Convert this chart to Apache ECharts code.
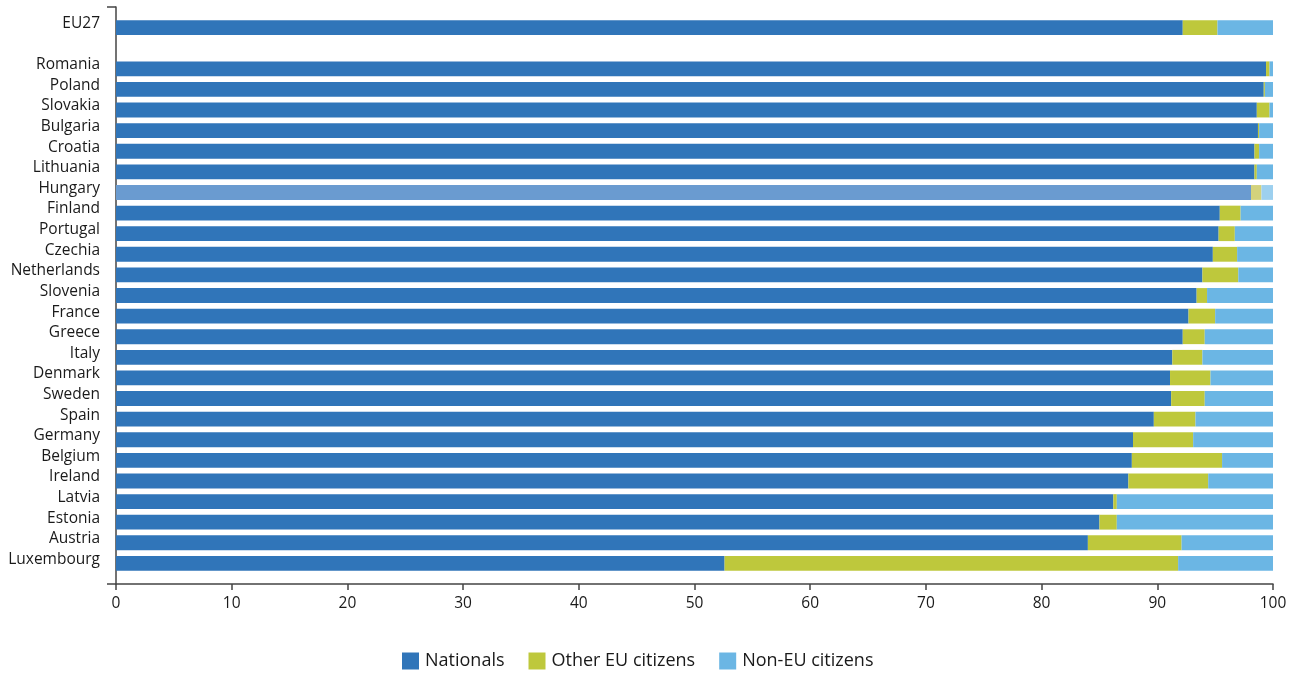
<!DOCTYPE html>
<html>
<head>
<meta charset="utf-8">
<style>
  html, body { margin: 0; padding: 0; background: #fff; }
  #chart { width: 1298px; height: 675px; }
</style>
<script src="https://cdn.jsdelivr.net/npm/echarts@6/dist/echarts.min.js"></script>
</head>
<body>
<div id="chart"></div>
<script>
// Population by citizenship (% of total), ordered by share of nationals
const categories = ['', 'EU27', '', 'Romania', 'Poland', 'Slovakia', 'Bulgaria', 'Croatia', 'Lithuania',
  'Hungary', 'Finland', 'Portugal', 'Czechia', 'Netherlands', 'Slovenia', 'France', 'Greece', 'Italy',
  'Denmark', 'Sweden', 'Spain', 'Germany', 'Belgium', 'Ireland', 'Latvia', 'Estonia', 'Austria',
  'Luxembourg', ''];

const nationals = [null, 92.2, null, 99.4, 99.2, 98.6, 98.7, 98.4, 98.4,
  98.1, 95.4, 95.3, 94.8, 93.9, 93.4, 92.7, 92.2, 91.3,
  91.1, 91.2, 89.7, 87.9, 87.8, 87.5, 86.2, 85.0, 84.0,
  52.6, null];

const otherEU = [null, 3.0, null, 0.3, 0.1, 1.1, 0.1, 0.4, 0.2,
  0.9, 1.8, 1.4, 2.1, 3.1, 0.9, 2.3, 1.9, 2.6,
  3.5, 2.9, 3.6, 5.2, 7.8, 6.9, 0.3, 1.5, 8.1,
  39.2, null];

const nonEU = [null, 4.8, null, 0.3, 0.7, 0.3, 1.2, 1.2, 1.4,
  1.0, 2.8, 3.3, 3.1, 3.0, 5.7, 5.0, 5.9, 6.1,
  5.4, 5.9, 6.7, 6.9, 4.4, 5.6, 13.5, 13.5, 7.9,
  8.2, null];

const xTicks = [0, 10, 20, 30, 40, 50, 60, 70, 80, 90, 100];

const highlighted = 'Hungary';

const palette = {
  'Nationals': { base: '#3075b9', light: '#6a9bd0' },
  'Other EU citizens': { base: '#bec83c', light: '#d3d27c' },
  'Non-EU citizens': { base: '#6bb6e4', light: '#9dd0ef' }
};

function buildData(values, name) {
  return values.map((v, i) => {
    if (categories[i] === highlighted) {
      return { value: v, itemStyle: { color: palette[name].light } };
    }
    return v;
  });
}

const seriesDefs = [
  ['Nationals', nationals],
  ['Other EU citizens', otherEU],
  ['Non-EU citizens', nonEU]
];

const chart = echarts.init(document.getElementById('chart'));
const fontFamily = '"Open Sans", "Noto Sans", sans-serif';

chart.setOption({
  animation: false,
  textStyle: { fontFamily: fontFamily },
  grid: { left: 116, right: 25, top: 7, bottom: 91, containLabel: false },
  legend: {
    bottom: 0,
    left: 397,
    itemWidth: 17,
    itemHeight: 17,
    itemGap: 24,
    icon: 'rect',
    textStyle: { fontSize: 18, color: '#1a1a1a', fontFamily: fontFamily, padding: [0, 0, 0, 1] },
    data: seriesDefs.map(d => d[0])
  },
  xAxis: {
    type: 'value',
    min: xTicks[0],
    max: xTicks[xTicks.length - 1],
    interval: xTicks[1] - xTicks[0],
    splitLine: { show: false },
    axisLine: { show: true, lineStyle: { color: '#444', width: 1.5 } },
    axisTick: { show: true, length: 6, lineStyle: { color: '#444', width: 1.5 } },
    axisLabel: { fontSize: 15.5, color: '#1a1a1a', margin: 12 }
  },
  yAxis: {
    type: 'category',
    inverse: true,
    boundaryGap: false,
    data: categories,
    axisLine: { show: true, lineStyle: { color: '#444', width: 1.5 } },
    axisTick: {
      show: true,
      length: 9,
      lineStyle: { color: '#444', width: 1.5 },
      interval: (index) => index === 0 || index === categories.length - 1
    },
    axisLabel: {
      interval: 0, fontSize: 15.5, color: '#1a1a1a', margin: 16,
      verticalAlign: 'bottom', lineHeight: 8
    }
  },
  series: seriesDefs.map(([name, values]) => ({
    name: name,
    type: 'bar',
    stack: 'total',
    barWidth: '72%',
    itemStyle: { color: palette[name].base },
    data: buildData(values, name)
  }))
});
</script>
</body>
</html>
